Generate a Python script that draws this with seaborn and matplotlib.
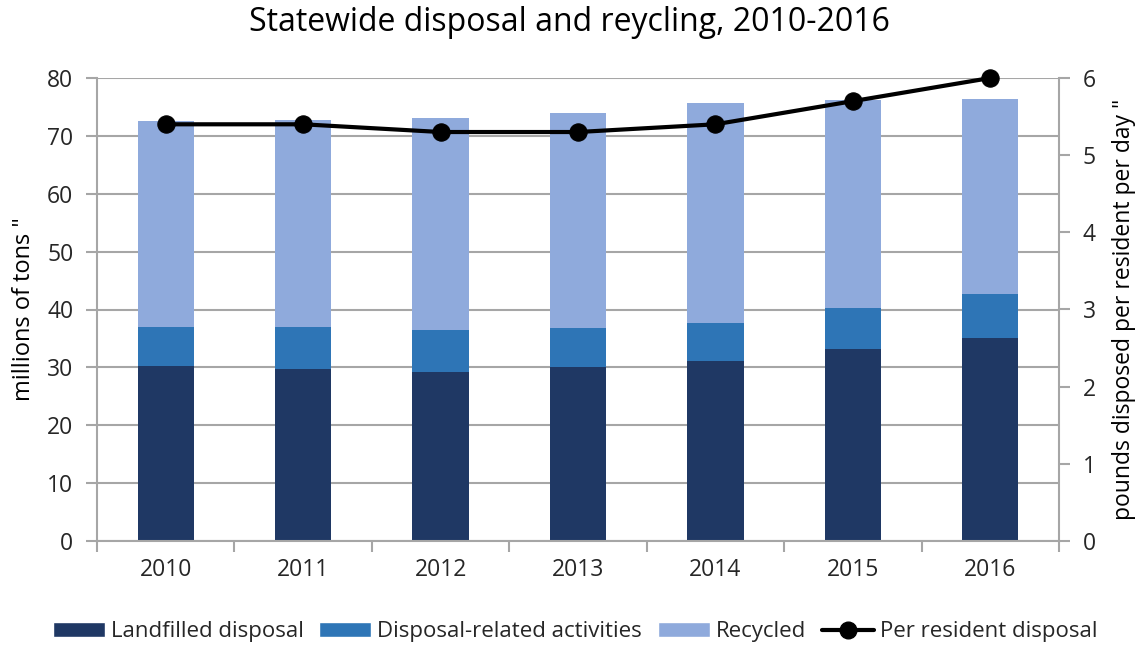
import matplotlib
matplotlib.use("Agg")
import matplotlib.pyplot as plt
import seaborn as sns
import numpy as np
import pandas as pd
from matplotlib.patches import Patch
from matplotlib.lines import Line2D
from matplotlib.ticker import FixedLocator, NullFormatter

years = ["2010", "2011", "2012", "2013", "2014", "2015", "2016"]
landfilled = [30.2, 29.7, 29.2, 30.1, 31.1, 33.2, 35.1]
disposal_related = [6.8, 7.3, 7.3, 6.7, 6.6, 7.1, 7.6]
recycled = [35.6, 35.7, 36.6, 37.2, 38.0, 35.9, 33.7]
per_resident = [5.4, 5.4, 5.3, 5.3, 5.4, 5.7, 6.0]

c_land = "#1F3864"
c_disp = "#2E75B6"
c_rec = "#8FAADC"
grid_c = "#A6A6A6"
txt_c = "#262626"

sns.set_theme(style="white")
plt.rcParams['font.family'] = ['Open Sans', 'DejaVu Sans']

df = pd.DataFrame({"year": years, "land": landfilled, "disp": disposal_related, "rec": recycled, "per": per_resident})
df["mid"] = df["land"] + df["disp"]
df["top"] = df["mid"] + df["rec"]

fig = plt.figure(figsize=(11.39, 6.46), dpi=100)
ax = fig.add_axes([97/1139, 1-541/646, (1059-97)/1139, (541-78)/646])

bw = 0.41
for col, c in [("top", c_rec), ("mid", c_disp), ("land", c_land)]:
    sns.barplot(data=df, x="year", y=col, color=c, width=bw, saturation=1, ax=ax,
                zorder=2, linewidth=0, edgecolor=c)

ax.set_xlim(-0.5, 6.5)
ax.set_ylim(0, 80)
ax.set_yticks(np.arange(0, 81, 10))
ax.yaxis.grid(True, color=grid_c, linewidth=1.5, zorder=0)
ax.set_axisbelow(True)
for s in ["top", "right"]:
    ax.spines[s].set_visible(False)
for s in ["left", "bottom"]:
    ax.spines[s].set_color(grid_c)
    ax.spines[s].set_linewidth(1.5)
ax.xaxis.set_minor_locator(FixedLocator(np.arange(-0.5, 7, 1)))
ax.xaxis.set_minor_formatter(NullFormatter())
ax.tick_params(axis="x", which="major", length=0, pad=12, labelsize=16.5, labelcolor=txt_c)
ax.tick_params(axis="x", which="minor", length=8, width=1.5, color=grid_c, direction="out", bottom=True)
ax.tick_params(axis="y", length=8, width=1.5, color=grid_c, direction="out", left=True, labelsize=16.5, labelcolor=txt_c, pad=9)
ax.set_xlabel("")
ax.set_ylabel('millions of tons "', fontsize=17, color="black", labelpad=8)

ax2 = ax.twinx()
sns.lineplot(data=df, x="year", y="per", ax=ax2, color="black", linewidth=3, marker="o",
             markersize=12.5, markeredgecolor="black", zorder=5, clip_on=False)
ax2.set_ylim(0, 6)
ax2.set_yticks(np.arange(0, 7, 1))
for s in ["top", "left", "bottom"]:
    ax2.spines[s].set_visible(False)
ax2.spines["right"].set_color(grid_c)
ax2.spines["right"].set_linewidth(1.5)
ax2.tick_params(axis="y", length=8, width=1.5, color=grid_c, direction="out", right=True, labelsize=16.5, labelcolor=txt_c, pad=9)
ax2.set_ylabel('pounds disposed per resident per day "', fontsize=16.5, color="black", labelpad=12)
ax2.set_xlabel("")
ax2.set_xlim(-0.5, 6.5)
ax2.grid(False)

fig.suptitle("Statewide disposal and reycling, 2010-2016", fontsize=23, color="black", y=0.99)

handles = [
    Patch(facecolor=c_land, label="Landfilled disposal"),
    Patch(facecolor=c_disp, label="Disposal-related activities"),
    Patch(facecolor=c_rec, label="Recycled"),
    Line2D([0], [0], color="black", linewidth=3, marker="o", markersize=12, label="Per resident disposal"),
]
fig.legend(handles=handles, loc="center", bbox_to_anchor=(575/1139, 1-632/646), ncol=4, frameon=False,
           fontsize=16, handlelength=2.35, handleheight=0.68, columnspacing=0.7, handletextpad=0.27,
           labelcolor=txt_c, borderpad=0.1)

fig.savefig("out.png", dpi=100)
